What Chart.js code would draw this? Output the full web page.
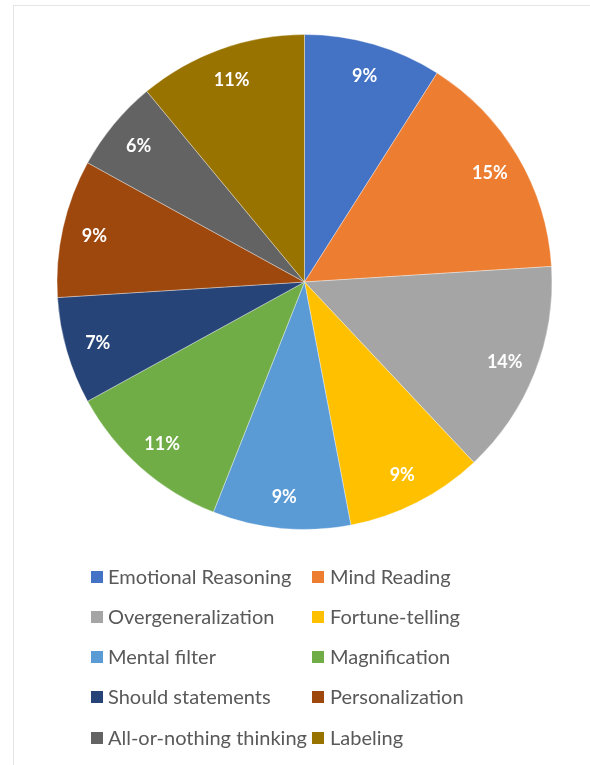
<!DOCTYPE html>
<html>
<head>
<meta charset="utf-8">
<script src="https://cdn.jsdelivr.net/npm/chart.js@4"></script>
<style>
  html, body { margin: 0; padding: 0; background: #ffffff; }
  #wrap { width: 590px; height: 765px; position: relative; }
</style>
</head>
<body>
<div id="wrap"><canvas id="pie" width="590" height="765"></canvas></div>
<script>
// Cognitive distortion categories and their shares (%)
const categories = [
  'Emotional Reasoning', 'Mind Reading', 'Overgeneralization', 'Fortune-telling',
  'Mental filter', 'Magnification', 'Should statements', 'Personalization',
  'All-or-nothing thinking', 'Labeling'
];
const shares = [9, 15, 14, 9, 9, 11, 7, 9, 6, 11];
const sliceColors = [
  '#4472C4', '#ED7D31', '#A5A5A5', '#FFC000', '#5B9BD5',
  '#70AD47', '#264478', '#9E480E', '#636363', '#997300'
];

// Thin frame around the chart
const framePlugin = {
  id: 'frame',
  beforeDraw(chart) {
    const ctx = chart.ctx;
    ctx.save();
    ctx.fillStyle = '#ffffff';
    ctx.fillRect(0, 0, chart.width, chart.height);
    ctx.strokeStyle = '#e4e4e4';
    ctx.lineWidth = 1;
    ctx.strokeRect(13.5, 5.5, chart.width + 20, chart.height + 20);
    ctx.restore();
  }
};

// Percentage labels placed near the outer edge of each slice
const sliceLabelPlugin = {
  id: 'sliceLabels',
  afterDatasetsDraw(chart) {
    const ctx = chart.ctx;
    const meta = chart.getDatasetMeta(0);
    const values = chart.data.datasets[0].data;
    ctx.save();
    ctx.fillStyle = '#ffffff';
    ctx.font = 'bold 18px Lato, "Open Sans", sans-serif';
    ctx.textAlign = 'center';
    ctx.textBaseline = 'middle';
    meta.data.forEach((arc, i) => {
      const p = arc.getProps(['x', 'y', 'startAngle', 'endAngle', 'outerRadius'], true);
      const mid = (p.startAngle + p.endAngle) / 2;
      const r = p.outerRadius * 0.87;
      ctx.fillText(values[i] + '%', p.x + Math.cos(mid) * r, p.y + Math.sin(mid) * r + 1);
    });
    ctx.restore();
  }
};

// Two-column legend under the pie
const gridLegendPlugin = {
  id: 'gridLegend',
  afterDraw(chart) {
    const ctx = chart.ctx;
    const labels = chart.data.labels;
    const colors = chart.data.datasets[0].backgroundColor;
    const colBox = [91, 312];
    const colText = [108, 330];
    const rowY = [577, 617, 657, 697, 738];
    ctx.save();
    ctx.font = '20px Lato, "Open Sans", sans-serif';
    ctx.textBaseline = 'middle';
    ctx.textAlign = 'left';
    labels.forEach((lab, i) => {
      const col = i % 2;
      const row = Math.floor(i / 2);
      const y = rowY[row];
      ctx.fillStyle = colors[i];
      ctx.fillRect(colBox[col], y - 6, 12, 12);
      ctx.fillStyle = '#595959';
      ctx.fillText(lab, colText[col], y + 1);
    });
    ctx.restore();
  }
};

new Chart(document.getElementById('pie'), {
  type: 'pie',
  data: {
    labels: categories,
    datasets: [{
      data: shares,
      backgroundColor: sliceColors,
      borderColor: 'rgba(255,255,255,0.35)',
      borderWidth: 1
    }]
  },
  options: {
    responsive: false,
    animation: false,
    layout: { padding: { top: 34, bottom: 235, left: 56, right: 37 } },
    plugins: {
      legend: { display: false },
      tooltip: { enabled: false }
    }
  },
  plugins: [framePlugin, sliceLabelPlugin, gridLegendPlugin]
});
</script>
</body>
</html>
